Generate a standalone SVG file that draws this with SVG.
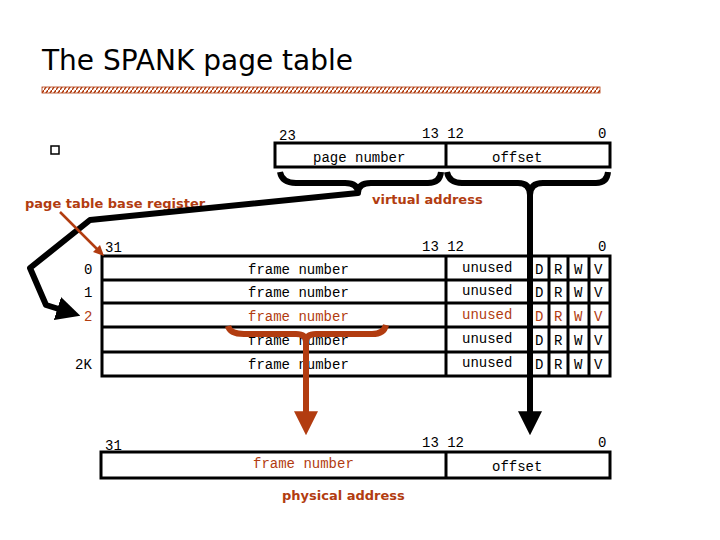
<svg xmlns="http://www.w3.org/2000/svg" width="720" height="540" viewBox="0 0 720 540">
<style>
.m{font-family:"Liberation Mono","Courier New",monospace;font-size:14px;fill:#000}
.r{fill:#b23c10}
.lbl{font-family:"DejaVu Sans",sans-serif;font-weight:bold;font-size:13px;fill:#b23c10}
.box{fill:#fff;stroke:#000;stroke-width:3}
.ln{stroke:#000;stroke-width:3}
.thick{fill:none;stroke:#000;stroke-width:6;stroke-linejoin:round}
.red{fill:none;stroke:#b23c10;stroke-width:6}
</style>
<defs>
<pattern id="h" width="4" height="6" patternUnits="userSpaceOnUse"><rect width="4" height="6" fill="#fff"/><path d="M0 6L4 0" stroke="#b23c10" stroke-width="1.5"/></pattern>
<marker id="ab" viewBox="0 0 10 10" refX="2" refY="5" markerWidth="4" markerHeight="4" orient="auto" markerUnits="strokeWidth"><path d="M0 0L10 5L0 10z" fill="#000"/></marker>
<marker id="ar" viewBox="0 0 10 10" refX="2" refY="5" markerWidth="4" markerHeight="4" orient="auto" markerUnits="strokeWidth"><path d="M0 0L10 5L0 10z" fill="#b23c10"/></marker>
</defs>
<rect width="720" height="540" fill="#fff"/>
<text x="42" y="70" font-family="DejaVu Sans,sans-serif" font-size="28">The SPANK page table</text>
<rect x="42" y="87" width="558" height="6" fill="url(#h)" stroke="#b23c10" stroke-width="0.8"/>
<rect x="51" y="146" width="8" height="8" fill="#fff" stroke="#000" stroke-width="1.5"/>

<g id="virtual">
<rect class="box" x="275" y="143" width="335" height="24"/>
<line class="ln" x1="446" y1="143" x2="446" y2="167"/>
<text class="m" x="279" y="140">23</text>
<text class="m" x="422" y="138">13 12</text>
<text class="m" x="598" y="138">0</text>
<text class="m" x="313" y="162">page number</text>
<text class="m" x="492" y="162">offset</text>
<text class="lbl" x="372" y="204">virtual address</text>
</g>

<g id="table">
<rect class="box" x="102" y="256" width="508" height="120"/>
<line class="ln" x1="102" y1="280" x2="610" y2="280"/>
<line class="ln" x1="102" y1="303" x2="610" y2="303"/>
<line class="ln" x1="102" y1="327" x2="610" y2="327"/>
<line class="ln" x1="102" y1="352" x2="610" y2="352"/>
<line class="ln" x1="446" y1="256" x2="446" y2="376"/>
<line class="ln" x1="531" y1="256" x2="531" y2="376"/>
<line class="ln" x1="549" y1="256" x2="549" y2="376"/>
<line class="ln" x1="568" y1="256" x2="568" y2="376"/>
<line class="ln" x1="589" y1="256" x2="589" y2="376"/>
<text class="m" x="105" y="252">31</text>
<text class="m" x="422" y="251">13 12</text>
<text class="m" x="598" y="251">0</text>
<text class="m" x="84" y="274">0</text>
<text class="m" x="84" y="297">1</text>
<text class="m r" x="84" y="321">2</text>
<text class="m" x="75" y="369">2K</text>
<g class="m">
<text x="248" y="274">frame number</text><text x="462" y="272">unused</text>
<text x="248" y="297">frame number</text><text x="462" y="295">unused</text>
<text x="248" y="345">frame number</text><text x="462" y="343">unused</text>
<text x="248" y="369">frame number</text><text x="462" y="367">unused</text>
</g>
<g class="m r"><text x="248" y="321">frame number</text><text x="462" y="319">unused</text></g>
<g class="m">
<text x="535" y="274">D</text><text x="554" y="274">R</text><text x="574" y="274">W</text><text x="594" y="274">V</text>
<text x="535" y="297">D</text><text x="554" y="297">R</text><text x="574" y="297">W</text><text x="594" y="297">V</text>
<text x="535" y="345">D</text><text x="554" y="345">R</text><text x="574" y="345">W</text><text x="594" y="345">V</text>
<text x="535" y="369">D</text><text x="554" y="369">R</text><text x="574" y="369">W</text><text x="594" y="369">V</text>
</g>
<g class="m r"><text x="535" y="321">D</text><text x="554" y="321">R</text><text x="574" y="321">W</text><text x="594" y="321">V</text></g>
</g>

<g id="physical">
<rect class="box" x="101" y="452" width="509" height="26"/>
<line class="ln" x1="446" y1="452" x2="446" y2="478"/>
<text class="m" x="105" y="450">31</text>
<text class="m" x="422" y="447">13 12</text>
<text class="m" x="598" y="447">0</text>
<text class="m r" x="253" y="468">frame number</text>
<text class="m" x="492" y="471">offset</text>
<text class="lbl" x="282" y="500">physical address</text>
</g>

<text class="lbl" x="25" y="208">page table base register</text>

<g id="connectors">
<path class="thick" d="M280 172Q282 183 296 183L345 183Q358 183 358 193Q358 183 371 183L428 183Q440 183 441 172"/>
<path class="thick" d="M447 172Q449 183 462 183L518 183Q530 183 530 195Q530 183 543 183L596 183Q607 183 608 172"/>
<path class="thick" d="M530 195L530 416" marker-end="url(#ab)"/>
<path class="thick" d="M358 193L90 220L30 268L46 305L62 310" marker-end="url(#ab)"/>
<path class="red" d="M228 326Q230 334 244 334L296 334Q306 334 306 342Q306 334 316 334L372 334Q384 334 386 325"/>
<path class="red" d="M306 342L306 416" marker-end="url(#ar)"/>
<line x1="60" y1="212" x2="100" y2="252" stroke="#b23c10" stroke-width="2.5"/>
<path d="M104 256L93 252L100 245z" fill="#b23c10"/>
</g>
</svg>
